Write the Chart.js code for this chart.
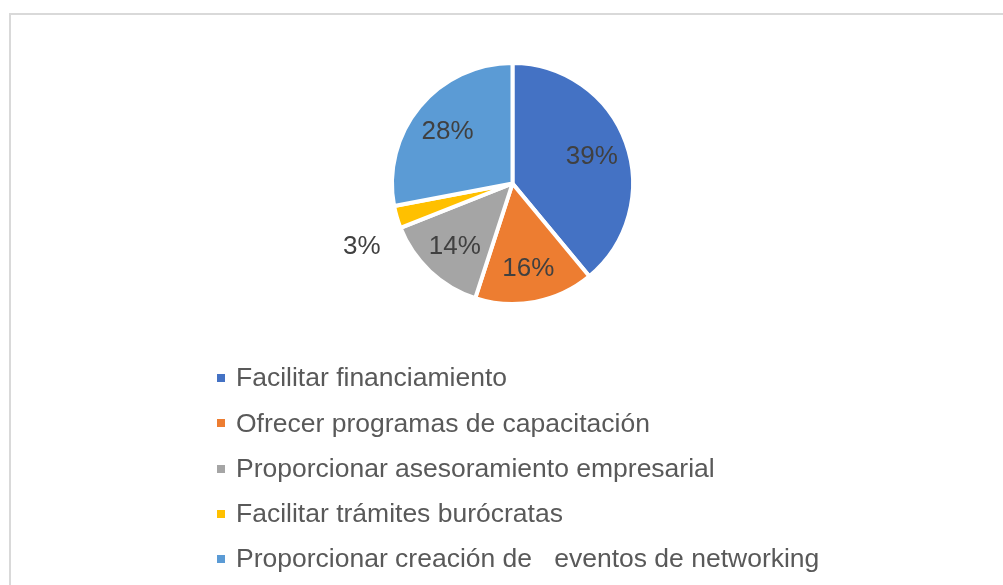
<!DOCTYPE html>
<html>
<head>
<meta charset="utf-8">
<script src="https://cdn.jsdelivr.net/npm/chart.js@4"></script>
<style>
  html, body { margin: 0; padding: 0; background: #ffffff; }
  canvas { display: block; }
</style>
</head>
<body>
<canvas id="c" width="1003" height="585"></canvas>
<script>
const categories = [
  'Facilitar financiamiento',
  'Ofrecer programas de capacitación',
  'Proporcionar asesoramiento empresarial',
  'Facilitar trámites burócratas',
  'Proporcionar creación de   eventos de networking'
];
const values = [39, 16, 14, 3, 28];
const colors = ['#4472C4', '#ED7D31', '#A5A5A5', '#FFC000', '#5B9BD5'];

const FONT = '"Liberation Sans", Arial, sans-serif';

const frame = {
  id: 'frame',
  beforeDraw(chart) {
    const ctx = chart.ctx;
    ctx.save();
    ctx.fillStyle = '#ffffff';
    ctx.fillRect(0, 0, chart.width, chart.height);
    ctx.strokeStyle = '#d9d9d9';
    ctx.lineWidth = 2;
    ctx.strokeRect(10, 14, 1100, 700);
    ctx.restore();
  }
};

const pctLabels = {
  id: 'pctLabels',
  afterDatasetsDraw(chart) {
    const ctx = chart.ctx;
    const meta = chart.getDatasetMeta(0);
    const data = chart.data.datasets[0].data;
    const total = data.reduce((a, b) => a + b, 0);
    ctx.save();
    ctx.font = '26px ' + FONT;
    ctx.fillStyle = '#404040';
    ctx.textAlign = 'center';
    ctx.textBaseline = 'middle';
    meta.data.forEach((arc, i) => {
      const p = arc.getProps(['x', 'y', 'startAngle', 'endAngle', 'outerRadius'], true);
      const pct = Math.round(data[i] / total * 100);
      let mid = (p.startAngle + p.endAngle) / 2;
      let dist = p.outerRadius * 0.7;
      if (pct < 5) {
        mid -= 6 * Math.PI / 180;
        dist = p.outerRadius * 1.35;
      }
      ctx.fillText(pct + '%', p.x + Math.cos(mid) * dist, p.y + Math.sin(mid) * dist + 2);
    });
    ctx.restore();
  }
};

const listLegend = {
  id: 'listLegend',
  afterDraw(chart) {
    const ctx = chart.ctx;
    const labels = chart.data.labels;
    const bg = chart.data.datasets[0].backgroundColor;
    ctx.save();
    ctx.font = '26.5px ' + FONT;
    ctx.textBaseline = 'middle';
    ctx.textAlign = 'left';
    labels.forEach((lab, i) => {
      const y = 378 + i * 45.25;
      ctx.fillStyle = bg[i];
      ctx.fillRect(217, Math.round(y) - 4, 8, 8);
      ctx.fillStyle = '#595959';
      ctx.fillText(lab, 236, y + 1);
    });
    ctx.restore();
  }
};

new Chart(document.getElementById('c'), {
  type: 'pie',
  data: {
    labels: categories,
    datasets: [{
      data: values,
      backgroundColor: colors,
      borderColor: '#ffffff',
      borderWidth: 4
    }]
  },
  options: {
    responsive: false,
    animation: false,
    radius: 120.5,
    layout: { padding: { top: 65, bottom: 283, left: 393, right: 371 } },
    plugins: {
      legend: { display: false },
      tooltip: { enabled: false }
    }
  },
  plugins: [frame, pctLabels, listLegend]
});
</script>
</body>
</html>
